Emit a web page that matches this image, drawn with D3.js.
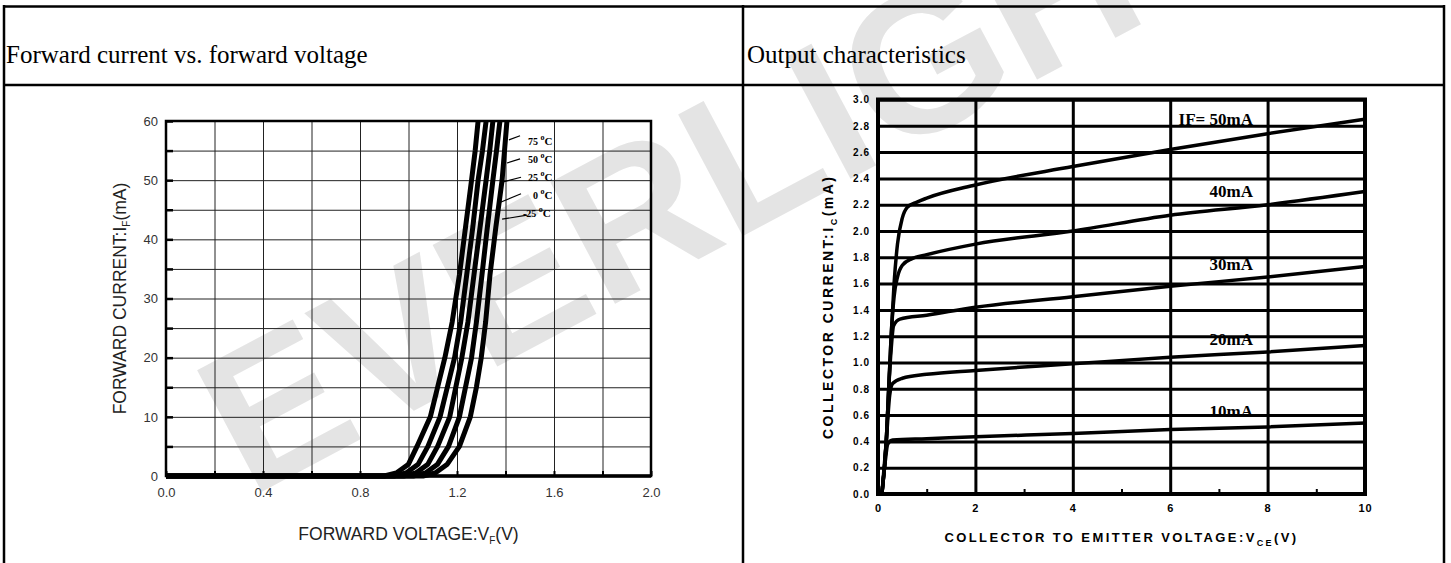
<!DOCTYPE html>
<html>
<head>
<meta charset="utf-8">
<script src="https://cdn.jsdelivr.net/npm/d3@7"></script>
<style>
	body { margin: 0; background: #fff; }
	svg { display: block; }
</style>
</head>
<body>
<div id="chart"></div>
<script>
// ---- left chart: forward current vs forward voltage ----
let vfTicks = [0, 0.4, 0.8, 1.2, 1.6, 2.0];
let ifTicks = [0, 10, 20, 30, 40, 50, 60];
let tempNames = ["75", "50", "25", "0", "-25"];

// [V, mA], one curve per temperature
let vf75 = [[0,0],[0.90,0],[0.95,0.5],[1.00,2],[1.035,5],[1.09,10],[1.12,15],[1.15,20],[1.18,26],[1.21,34],[1.235,42],[1.26,50],[1.275,55],[1.287,60]];
let vf50 = [[0,0],[0.94,0],[0.99,0.5],[1.04,2],[1.08,5],[1.13,10],[1.16,15],[1.19,20],[1.215,26],[1.24,34],[1.265,42],[1.287,50],[1.305,55],[1.32,60]];
let vf25 = [[0,0],[0.98,0],[1.03,0.5],[1.08,2],[1.12,5],[1.17,10],[1.195,15],[1.22,20],[1.245,26],[1.27,34],[1.295,42],[1.32,50],[1.335,55],[1.348,60]];
let vf0 = [[0,0],[1.02,0],[1.07,0.5],[1.12,2],[1.165,5],[1.21,10],[1.235,15],[1.26,20],[1.28,26],[1.303,34],[1.325,42],[1.348,50],[1.363,55],[1.377,60]];
let vfM25 = [[0,0],[1.06,0],[1.11,0.5],[1.16,2],[1.21,5],[1.255,10],[1.28,15],[1.30,20],[1.318,26],[1.336,34],[1.36,42],[1.386,50],[1.396,55],[1.406,60]];

// ---- right chart: output characteristics ----
let vceTicks = [0, 2, 4, 6, 8, 10];
let icTicks = [0, 0.2, 0.4, 0.6, 0.8, 1.0, 1.2, 1.4, 1.6, 1.8, 2.0, 2.2, 2.4, 2.6, 2.8, 3.0];
let ifNames = ["IF= 50mA", "40mA", "30mA", "20mA", "10mA"];

// [V, mA]
let ic50 = [[0.08,0],[0.17,0.4],[0.22,0.8],[0.27,1.2],[0.33,1.6],[0.40,1.9],[0.50,2.1],[0.60,2.18],[0.80,2.22],[1,2.25],[2,2.35],[4,2.49],[6,2.62],[8,2.74],[10,2.85]];
let ic40 = [[0.08,0],[0.17,0.4],[0.22,0.8],[0.27,1.2],[0.33,1.5],[0.40,1.65],[0.50,1.74],[0.70,1.79],[1,1.82],[2,1.90],[4,2.00],[6,2.12],[8,2.20],[10,2.30]];
let ic30 = [[0.08,0],[0.17,0.4],[0.22,0.8],[0.27,1.1],[0.32,1.28],[0.45,1.33],[1,1.36],[2,1.42],[4,1.50],[6,1.58],[8,1.65],[10,1.73]];
let ic20 = [[0.08,0],[0.17,0.4],[0.24,0.75],[0.30,0.84],[0.50,0.88],[1,0.91],[2,0.94],[4,0.99],[6,1.04],[8,1.08],[10,1.13]];
let ic10 = [[0.08,0],[0.15,0.25],[0.20,0.38],[0.30,0.41],[1,0.42],[2,0.435],[4,0.46],[6,0.49],[8,0.51],[10,0.54]];

let width = 1451, height = 563;

let svg = d3.select('#chart')
	.append('svg')
	.attr('width', width)
	.attr('height', height);

// watermark behind everything
svg.append('text')
	.attr('transform', 'translate(250,498) rotate(-28)')
	.attr('font-family', 'Liberation Sans, Arial, sans-serif')
	.attr('font-weight', 'bold')
	.attr('font-size', 200)
	.attr('fill', '#e4e4e4')
	.text('EVERLIGHT');

// table frame
let table = svg.append('g').attr('stroke', '#000').attr('stroke-width', 2.5);
table.append('line').attr('x1', 4).attr('x2', 1445).attr('y1', 6.5).attr('y2', 6.5);
table.append('line').attr('x1', 4).attr('x2', 1445).attr('y1', 85).attr('y2', 85);
table.append('line').attr('x1', 4).attr('x2', 4).attr('y1', 5).attr('y2', height);
table.append('line').attr('x1', 743).attr('x2', 743).attr('y1', 5).attr('y2', height);
table.append('line').attr('x1', 1444).attr('x2', 1444).attr('y1', 5).attr('y2', height);

svg.append('text')
	.attr('x', 6).attr('y', 63)
	.attr('font-family', 'Liberation Serif, Times New Roman, serif')
	.attr('font-size', 25)
	.text('Forward current vs. forward voltage');

svg.append('text')
	.attr('x', 747).attr('y', 63)
	.attr('font-family', 'Liberation Serif, Times New Roman, serif')
	.attr('font-size', 25)
	.text('Output characteristics');

// ================= left chart =================
let lx = d3.scaleLinear().domain([0, 2]).range([166, 651]);
let ly = d3.scaleLinear().domain([0, 60]).range([476, 121]);

let left = svg.append('g');

// grid
left.append('g')
	.attr('transform', 'translate(0,' + ly(0) + ')')
	.call(d3.axisBottom(lx).ticks(10).tickSize(-(ly(0) - ly(60))).tickFormat(''))
	.call(g => g.select('.domain').remove())
	.selectAll('line').attr('stroke', '#222').attr('stroke-width', 1);

left.append('g')
	.attr('transform', 'translate(' + lx(0) + ',0)')
	.call(d3.axisLeft(ly).ticks(12).tickSize(-(lx(2) - lx(0))).tickFormat(''))
	.call(g => g.select('.domain').remove())
	.selectAll('line').attr('stroke', '#222').attr('stroke-width', 1);

// tick stubs
left.append('g')
	.attr('transform', 'translate(' + lx(0) + ',0)')
	.call(d3.axisRight(ly).ticks(12).tickSize(7).tickFormat(''))
	.call(g => g.select('.domain').remove())
	.selectAll('line').attr('stroke', '#000').attr('stroke-width', 2.5);

left.append('g')
	.attr('transform', 'translate(0,' + ly(0) + ')')
	.call(d3.axisTop(lx).ticks(10).tickSize(5).tickFormat(''))
	.call(g => g.select('.domain').remove())
	.selectAll('line').attr('stroke', '#000').attr('stroke-width', 2);

// frame
left.append('rect')
	.attr('x', lx(0)).attr('y', ly(60))
	.attr('width', lx(2) - lx(0)).attr('height', ly(0) - ly(60))
	.attr('fill', 'none').attr('stroke', '#000').attr('stroke-width', 2.5);
left.append('line')
	.attr('x1', lx(0)).attr('x2', lx(2)).attr('y1', ly(0)).attr('y2', ly(0))
	.attr('stroke', '#000').attr('stroke-width', 3.5);

// tick labels
let lxAxis = left.append('g')
	.attr('transform', 'translate(0,' + ly(0) + ')')
	.call(d3.axisBottom(lx).tickValues(vfTicks).tickSize(0).tickPadding(12).tickFormat(d3.format('.1f')));
lxAxis.select('.domain').remove();

let lyAxis = left.append('g')
	.attr('transform', 'translate(' + lx(0) + ',0)')
	.call(d3.axisLeft(ly).tickValues(ifTicks).tickSize(0).tickPadding(8));
lyAxis.select('.domain').remove();

left.selectAll('.tick text')
	.attr('font-family', 'Liberation Sans, Arial, sans-serif')
	.attr('font-size', 13)
	.attr('fill', '#333');

// curves
let vfLine = d3.line()
	.x(d => lx(d[0]))
	.y(d => ly(d[1]));

left.selectAll('.vfCurve')
	.data([vf75, vf50, vf25, vf0, vfM25])
	.enter()
	.append('path')
	.attr('class', 'vfCurve')
	.attr('d', vfLine)
	.attr('fill', 'none')
	.attr('stroke', '#000')
	.attr('stroke-width', 5)
	.attr('stroke-linejoin', 'round');

// temperature labels with leader lines
let tempNotes = [
	{ lab: [1.493, 55.9], from: [1.460, 57.5], to: [1.414, 56.8] },
	{ lab: [1.493, 52.9], from: [1.460, 53.6], to: [1.406, 52.9] },
	{ lab: [1.493, 49.8], from: [1.464, 50.5], to: [1.390, 49.7] },
	{ lab: [1.513, 46.8], from: [1.464, 47.7], to: [1.369, 46.1] },
	{ lab: [1.472, 43.8], from: [1.489, 44.1], to: [1.386, 43.4] }
];

tempNotes.forEach((n, i) => {
	left.append('line')
		.attr('x1', lx(n.from[0])).attr('y1', ly(n.from[1]))
		.attr('x2', lx(n.to[0])).attr('y2', ly(n.to[1]))
		.attr('stroke', '#000').attr('stroke-width', 1.2);
	let t = left.append('text')
		.attr('x', lx(n.lab[0])).attr('y', ly(n.lab[1]))
		.attr('font-family', 'Liberation Serif, Times New Roman, serif')
		.attr('font-weight', 'bold')
		.attr('font-size', 10);
	t.append('tspan').text(tempNames[i] + ' ');
	t.append('tspan').attr('dy', -5).attr('font-size', 8).text('o');
	t.append('tspan').attr('dy', 5).attr('font-size', 11).text('C');
});

// axis titles
let lxTitle = left.append('text')
	.attr('x', (lx(0) + lx(2)) / 2).attr('y', 540)
	.attr('text-anchor', 'middle')
	.attr('font-family', 'Liberation Sans, Arial, sans-serif')
	.attr('font-size', 17.5)
	.attr('fill', '#222');
lxTitle.append('tspan').text('FORWARD VOLTAGE:V');
lxTitle.append('tspan').attr('dy', 4).attr('font-size', 10).text('F');
lxTitle.append('tspan').attr('dy', -4).text('(V)');

let lyTitle = left.append('text')
	.attr('transform', 'translate(126,' + ((ly(0) + ly(60)) / 2) + ') rotate(-90)')
	.attr('text-anchor', 'middle')
	.attr('font-family', 'Liberation Sans, Arial, sans-serif')
	.attr('font-size', 17.5)
	.attr('fill', '#222');
lyTitle.append('tspan').text('FORWARD CURRENT:I');
lyTitle.append('tspan').attr('dy', 4).attr('font-size', 10).text('F');
lyTitle.append('tspan').attr('dy', -4).text('(mA)');

// ================= right chart =================
let rx = d3.scaleLinear().domain([0, 10]).range([878, 1365]);
let ry = d3.scaleLinear().domain([0, 3]).range([494, 99.5]);

let right = svg.append('g');

right.append('g')
	.attr('transform', 'translate(0,' + ry(0) + ')')
	.call(d3.axisBottom(rx).tickValues(vceTicks).tickSize(-(ry(0) - ry(3))).tickFormat(''))
	.call(g => g.select('.domain').remove())
	.selectAll('line').attr('stroke', '#000').attr('stroke-width', 3);

right.append('g')
	.attr('transform', 'translate(' + rx(0) + ',0)')
	.call(d3.axisLeft(ry).tickValues(icTicks).tickSize(-(rx(10) - rx(0))).tickFormat(''))
	.call(g => g.select('.domain').remove())
	.selectAll('line').attr('stroke', '#000').attr('stroke-width', 3);

// small ticks at odd volts
right.append('g')
	.attr('transform', 'translate(0,' + ry(0) + ')')
	.call(d3.axisTop(rx).tickValues([1, 3, 5, 7, 9]).tickSize(5).tickFormat(''))
	.call(g => g.select('.domain').remove())
	.selectAll('line').attr('stroke', '#000').attr('stroke-width', 2);

right.append('rect')
	.attr('x', rx(0)).attr('y', ry(3))
	.attr('width', rx(10) - rx(0)).attr('height', ry(0) - ry(3))
	.attr('fill', 'none').attr('stroke', '#000').attr('stroke-width', 4);

let rxAxis = right.append('g')
	.attr('transform', 'translate(0,' + ry(0) + ')')
	.call(d3.axisBottom(rx).tickValues(vceTicks).tickSize(0).tickPadding(10));
rxAxis.select('.domain').remove();
rxAxis.selectAll('text').attr('font-size', 11);

let ryAxis = right.append('g')
	.attr('transform', 'translate(' + rx(0) + ',0)')
	.call(d3.axisLeft(ry).tickValues(icTicks).tickSize(0).tickPadding(8).tickFormat(d3.format('.1f')));
ryAxis.select('.domain').remove();
ryAxis.selectAll('text').attr('font-size', 10);

right.selectAll('.tick text')
	.attr('font-family', 'Liberation Sans, Arial, sans-serif')
	.attr('font-weight', 'bold')
	.attr('letter-spacing', 1)
	.attr('fill', '#000');

let icLine = d3.line()
	.curve(d3.curveMonotoneX)
	.x(d => rx(d[0]))
	.y(d => ry(d[1]));

let icSeries = [ic50, ic40, ic30, ic20, ic10];

right.selectAll('.icCurve')
	.data(icSeries)
	.enter()
	.append('path')
	.attr('class', 'icCurve')
	.attr('d', icLine)
	.attr('fill', 'none')
	.attr('stroke', '#000')
	.attr('stroke-width', 3.5)
	.attr('stroke-linejoin', 'round');

// curve labels, right aligned near x = 7.7 V
let ifLabelY = [2.806, 2.26, 1.70, 1.133, 0.585];
ifNames.forEach((name, i) => {
	right.append('text')
		.attr('x', rx(7.7)).attr('y', ry(ifLabelY[i]))
		.attr('text-anchor', 'end')
		.attr('font-family', 'Liberation Serif, Times New Roman, serif')
		.attr('font-weight', 'bold')
		.attr('font-size', 17)
		.text(name);
});

let rxTitle = right.append('text')
	.attr('x', (rx(0) + rx(10)) / 2).attr('y', 542)
	.attr('text-anchor', 'middle')
	.attr('font-family', 'Liberation Sans, Arial, sans-serif')
	.attr('font-weight', 'bold')
	.attr('font-size', 13)
	.attr('letter-spacing', 2.4);
rxTitle.append('tspan').text('COLLECTOR TO EMITTER VOLTAGE:V');
rxTitle.append('tspan').attr('dy', 4).attr('font-size', 9).text('CE');
rxTitle.append('tspan').attr('dy', -4).text('(V)');

let ryTitle = right.append('text')
	.attr('transform', 'translate(833,' + ((ry(0) + ry(3)) / 2 + 10) + ') rotate(-90)')
	.attr('text-anchor', 'middle')
	.attr('font-family', 'Liberation Sans, Arial, sans-serif')
	.attr('font-weight', 'bold')
	.attr('font-size', 14)
	.attr('letter-spacing', 2.5);
ryTitle.append('tspan').text('COLLECTOR CURRENT:I');
ryTitle.append('tspan').attr('dy', 4).attr('font-size', 9).text('C');
ryTitle.append('tspan').attr('dy', -4).text('(mA)');
</script>
</body>
</html>
